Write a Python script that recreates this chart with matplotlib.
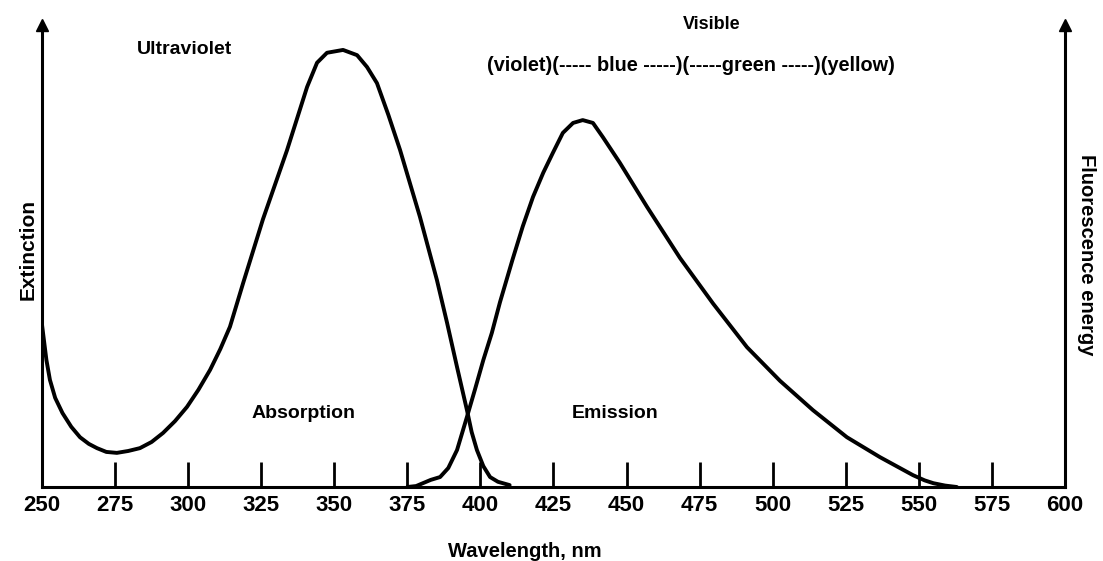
import matplotlib
matplotlib.use("Agg")
import matplotlib.pyplot as plt

plt.rcParams["font.family"] = ["Liberation Sans", "DejaVu Sans"]
plt.rcParams["font.weight"] = "bold"

# absorption curve (extinction)
abs_nm = [250, 251.5, 252.7, 254.5, 257, 260, 263, 266, 268.8, 272, 275.6,
          279.5, 283.5, 287.5, 291.4, 295.5, 299.6, 303.5, 307.5, 311, 314.3,
          318.8, 325.6, 333.8, 340.7, 344.1, 347.5, 353, 357.8, 361.2, 364.6,
          368.5, 372.5, 379.3, 385.1, 388.6, 392, 395.4, 397, 398.8, 401,
          403.3, 406, 410]
abs_val = [34.2, 26.8, 22.6, 18.8, 15.6, 12.7, 10.5, 9.1, 8.2, 7.4, 7.2,
           7.6, 8.2, 9.5, 11.4, 13.9, 16.9, 20.5, 24.7, 29.1, 33.8,
           43.0, 56.5, 71.0, 84.4, 89.5, 91.6, 92.2, 91.1, 88.6, 85.2,
           78.5, 71.1, 57.0, 43.7, 34.6, 25.3, 16.2, 11.6, 7.8, 4.4,
           2.1, 1.1, 0.4]

# emission curve (fluorescence energy)
em_nm = [375, 378, 380.3, 383, 386.2, 389, 392, 395.4, 398.1, 401, 403.9,
         406.7, 411, 414.5, 418, 421.5, 424.8, 428.2, 431.7, 435, 438.5,
         441.9, 447.7, 457, 468.3, 479.6, 491.2, 502.5, 513.8, 525.4, 536.7,
         548, 552, 555, 559, 563]
em_val = [0, 0.2, 0.8, 1.5, 2.1, 4.0, 7.8, 14.8, 20.5, 26.8, 32.5,
          39.0, 48.0, 55.0, 61.2, 66.3, 70.5, 74.7, 76.8, 77.4, 76.8,
          73.8, 68.4, 59.1, 48.3, 38.7, 29.5, 22.4, 16.2, 10.5, 6.3,
          2.5, 1.4, 0.8, 0.3, 0]

ticks = list(range(250, 601, 25))

fig = plt.figure(figsize=(11.03, 5.61), dpi=100)
ax = fig.add_axes([0.0381, 0.1319, 0.9274, 0.845])

for xs, ys in [(abs_nm, abs_val), (em_nm, em_val)]:
    ax.plot(xs, ys, color="black", lw=2.8, solid_capstyle="round",
            solid_joinstyle="round")

ax.set_xlim(250, 600)
ax.set_ylim(0, 100)

ax.spines["top"].set_visible(False)
for s in ["left", "right", "bottom"]:
    ax.spines[s].set_linewidth(2.2)
ax.spines["left"].set_bounds(0, 97)
ax.spines["right"].set_bounds(0, 97)

# arrow heads on the two vertical axes
for xa in (250, 600):
    ax.plot([xa], [97.5], marker="^", markersize=9, color="black", clip_on=False)

ax.set_xticks(ticks)
ax.set_xticklabels([str(t) for t in ticks], fontsize=16, fontweight="bold")
ax.tick_params(axis="x", direction="in", length=18, width=2, pad=6)
ax.set_yticks([])

ax.set_ylabel("Extinction", fontsize=15, fontweight="bold", labelpad=3)

ax.text(415.2, -13.5, "Wavelength, nm", ha="center", va="center",
        fontsize=14.5, fontweight="bold")
ax.text(1.021, 0.49, "Fluorescence energy", transform=ax.transAxes, rotation=270,
        ha="center", va="center", fontsize=14.5, fontweight="bold")

ax.text(298.6, 92.2, "Ultraviolet", ha="center", va="center", fontsize=14, fontweight="bold")
ax.text(479, 97.5, "Visible", ha="center", va="center", fontsize=13, fontweight="bold")
ax.text(472, 89, "(violet)(----- blue -----)(-----green -----)(yellow)",
        ha="center", va="center", fontsize=14.3, fontweight="bold")
ax.text(339.5, 15.6, "Absorption", ha="center", va="center", fontsize=14, fontweight="bold")
ax.text(446, 15.6, "Emission", ha="center", va="center", fontsize=14, fontweight="bold")

fig.savefig("out.png", dpi=100)
